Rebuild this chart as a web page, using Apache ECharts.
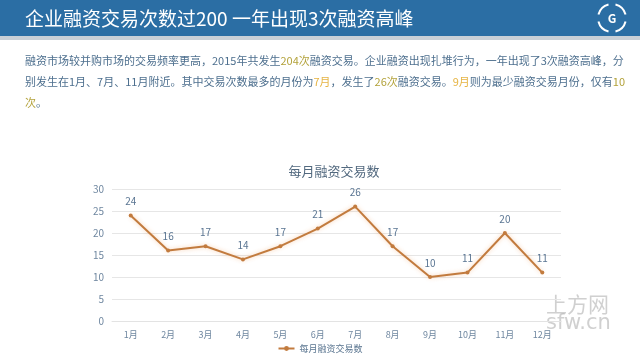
<!DOCTYPE html>
<html>
<head>
<meta charset="utf-8">
<script src="https://cdn.jsdelivr.net/npm/echarts@6/dist/echarts.min.js"></script>
<style>
html,body{margin:0;padding:0;background:#fff;}
#c{width:640px;height:362px;}
</style>
</head>
<body>
<div id="c"></div>
<script>
const pageTitle = '企业融资交易次数过200 一年出现3次融资高峰';
const chartTitle = '每月融资交易数';
const seriesName = '每月融资交易数';
const months = ['1月','2月','3月','4月','5月','6月','7月','8月','9月','10月','11月','12月'];
const dealCounts = [24,16,17,14,17,21,26,17,10,11,20,11];
const yMin = 0, yMax = 30, yStep = 5;
// paragraph segments: [text, style]
const paraLines = [
  [['融资市场较并购市场的交易频率更高，2015年共发生','n'],['204次','h'],['融资交易。企业融资出现扎堆行为，一年出现了3次融资高峰，分','n']],
  [['别发生在1月、7月、11月附近。其中交易次数最多的月份为','n'],['7月','m'],['，发生了','n'],['26次','h'],['融资交易。','n'],['9月','m'],['则为最少融资交易月份，仅有','n'],['10','h']],
  [['次','h'],['。','n']]
];
const watermark = ['上方网','sfw.cn'];

const chart = echarts.init(document.getElementById('c'), null, {renderer:'canvas'});
const FONT = '"Noto Sans CJK SC","Noto Sans",sans-serif';

const paraGraphics = paraLines.map((segs, i) => ({
  type:'text', left:25, top:55 + i*21,
  style:{
    text: segs.map(s => '{' + s[1] + '|' + s[0] + '}').join(''),
    rich:{
      n:{fill:'#4d6f8e', fontSize:11, fontFamily:FONT},
      h:{fill:'#b3a23a', fontSize:11, fontFamily:FONT},
      m:{fill:'#e6b443', fontSize:11, fontFamily:FONT}
    }
  }
}));

const option = {
  backgroundColor:'#ffffff',
  animation:false,
  title:{
    text:chartTitle, left:329, top:160, textAlign:'center',
    textStyle:{color:'#52697f', fontSize:13, fontWeight:'normal', fontFamily:FONT}
  },
  legend:{
    data:[seriesName], left:'center', bottom:4, itemWidth:16, itemHeight:6, itemGap:4,
    textStyle:{color:'#5a7590', fontSize:9, fontFamily:FONT}
  },
  grid:{left:112, right:79, top:189, bottom:41, containLabel:false},
  xAxis:{
    type:'category', data:months, boundaryGap:true,
    axisLine:{show:true, lineStyle:{color:'#e3e3e3'}},
    axisTick:{show:false},
    axisLabel:{color:'#6f87a0', fontSize:9, margin:9, fontFamily:FONT}
  },
  yAxis:{
    type:'value', min:yMin, max:yMax, interval:yStep,
    axisLine:{show:false}, axisTick:{show:false},
    axisLabel:{color:'#6f87a0', fontSize:10, margin:8, fontFamily:FONT},
    splitLine:{lineStyle:{color:'#e6e6e6', width:1}}
  },
  series:[{
    name:seriesName, type:'line', data:dealCounts,
    symbol:'circle', symbolSize:4,
    lineStyle:{color:'#c27b3e', width:2, shadowColor:'rgba(240,150,80,0.45)', shadowBlur:4},
    itemStyle:{color:'#c27b3e'},
    label:{show:true, position:'top', distance:7, color:'#5a7592', fontSize:10, fontFamily:FONT}
  }],
  graphic:[
    {type:'rect', left:0, top:0, shape:{width:640, height:36}, style:{fill:'#2b6ea4'}},
    {type:'rect', left:0, top:36, shape:{width:640, height:4}, style:{fill:'#c9d0d7'}},
    {type:'text', left:25, top:9, style:{text:pageTitle, fill:'#ffffff', fontSize:19, fontFamily:FONT}},
    {type:'arc', shape:{cx:612, cy:18, r:14, startAngle:-Math.PI*0.42, endAngle:-Math.PI*0.08}, style:{stroke:'#ffffff', lineWidth:2, fill:null}},
    {type:'arc', shape:{cx:612, cy:18, r:14, startAngle:Math.PI*0.08, endAngle:Math.PI*0.42}, style:{stroke:'#ffffff', lineWidth:2, fill:null}},
    {type:'arc', shape:{cx:612, cy:18, r:14, startAngle:Math.PI*0.58, endAngle:Math.PI*0.92}, style:{stroke:'#ffffff', lineWidth:2, fill:null}},
    {type:'arc', shape:{cx:612, cy:18, r:14, startAngle:Math.PI*1.08, endAngle:Math.PI*1.42}, style:{stroke:'#ffffff', lineWidth:2, fill:null}},
    {type:'text', x:612, y:18, style:{text:'G', fill:'#ffffff', fontSize:12, fontWeight:'bold', fontFamily:FONT, align:'center', verticalAlign:'middle'}},
    ...paraGraphics,
    {type:'text', left:546, top:294, style:{text:watermark[0], fill:'rgba(150,150,150,0.45)', fontSize:21, fontFamily:FONT}},
    {type:'text', left:546, top:313, style:{text:watermark[1], fill:'rgba(150,150,150,0.45)', fontSize:21, fontFamily:'"DejaVu Sans",sans-serif'}}
  ]
};
chart.setOption(option);
</script>
</body>
</html>
